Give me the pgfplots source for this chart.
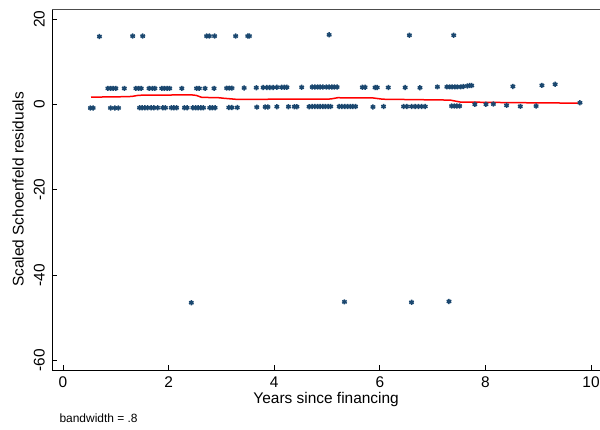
\documentclass[border=0pt]{standalone}
\usepackage{pgfplots}
\pgfplotsset{compat=1.18}
\usepackage{fontspec}
\setmainfont{Liberation Sans}
\definecolor{stnavy}{RGB}{26,71,111}
\definecolor{stred}{RGB}{255,0,0}
\begin{document}
\begin{tikzpicture}
\path[use as bounding box] (0,0) rectangle (600bp,430bp);
\begin{axis}[
  at={(52.3bp,60bp)}, anchor=south west,
  scale only axis, width=547.7bp, height=361bp,
  xmin=-0.203, xmax=10.17, ymin=-62.27, ymax=22.35,
  axis x line*=bottom, axis y line*=left,
  axis line style={black, line width=0.9bp, -},
  xtick={0,2,4,6,8,10}, ytick={-60,-40,-20,0,20},
  major tick length=5bp,
  tick style={black, line width=0.8bp},
  tick align=inside,
  /pgf/number format/assume math mode=true,
  ticklabel style={font=\fontsize{15.5}{18}\selectfont},
  xticklabel style={yshift=-3bp},
  yticklabel style={xshift=-4bp, rotate=90, anchor=south},
  xlabel={Years since financing},
  ylabel={Scaled Schoenfeld residuals},
  label style={font=\fontsize{15.5}{18}\selectfont},
  xlabel style={at={(axis description cs:0.5,-0.0831)}, anchor=center},
  ylabel style={at={(axis description cs:-0.0626,0.5)}, anchor=center},
  clip=false,
]
\addplot[only marks, mark=asterisk, mark size=2.6bp, color=stnavy, line width=1.5bp] table {
x y
0.69 15.9
1.32 16.0
1.51 16.0
2.72 16.0
2.77 16.0
2.87 16.0
3.27 16.0
3.50 16.0
3.53 16.0
5.04 16.3
6.56 16.2
7.40 16.2
0.85 3.75
0.90 3.75
0.95 3.75
1.00 3.75
1.16 3.75
1.38 3.75
1.43 3.75
1.48 3.75
1.63 3.75
1.69 3.75
1.74 3.75
1.87 3.75
1.92 3.75
1.97 3.75
2.02 3.75
2.25 3.75
2.53 3.75
2.58 3.75
2.69 3.75
2.86 3.75
3.10 3.8
3.15 3.8
3.20 3.8
3.43 3.85
3.66 3.9
3.79 3.95
3.86 3.95
3.92 3.95
3.98 3.95
4.05 4.0
4.14 4.0
4.19 4.0
4.24 4.0
4.52 4.0
4.72 4.05
4.77 4.05
4.82 4.05
4.87 4.05
4.92 4.05
4.99 4.05
5.04 4.05
5.09 4.05
5.14 4.05
5.19 4.05
5.67 4.0
5.72 4.0
5.91 3.95
5.95 3.95
6.16 3.95
6.48 3.95
6.76 3.9
7.09 4.1
7.27 4.1
7.32 4.1
7.37 4.1
7.42 4.1
7.47 4.1
7.53 4.1
7.58 4.2
7.66 4.3
7.70 4.4
7.74 4.4
8.52 4.2
9.07 4.45
9.32 4.7
0.52 -0.85
0.57 -0.85
0.90 -0.85
0.98 -0.85
1.05 -0.85
1.45 -0.8
1.50 -0.8
1.55 -0.8
1.60 -0.8
1.67 -0.8
1.72 -0.8
1.79 -0.8
1.89 -0.8
1.94 -0.8
2.05 -0.8
2.10 -0.8
2.15 -0.8
2.30 -0.8
2.35 -0.8
2.46 -0.8
2.51 -0.8
2.56 -0.8
2.61 -0.8
2.66 -0.8
2.78 -0.8
2.83 -0.8
2.88 -0.8
3.14 -0.75
3.20 -0.75
3.30 -0.75
3.67 -0.65
3.83 -0.6
3.88 -0.6
4.05 -0.55
4.27 -0.55
4.38 -0.55
4.43 -0.55
4.66 -0.55
4.72 -0.5
4.77 -0.5
4.82 -0.5
4.87 -0.5
4.92 -0.5
4.97 -0.5
5.02 -0.5
5.07 -0.5
5.23 -0.5
5.28 -0.5
5.34 -0.5
5.39 -0.5
5.44 -0.5
5.49 -0.5
5.54 -0.5
5.87 -0.6
6.07 -0.5
6.45 -0.5
6.51 -0.5
6.60 -0.5
6.67 -0.5
6.73 -0.5
6.79 -0.5
6.86 -0.5
7.36 -0.4
7.41 -0.4
7.46 -0.4
7.51 -0.4
7.80 0.0
8.01 0.0
8.15 0.07
8.40 -0.23
8.66 -0.47
8.96 -0.4
9.79 0.37
2.43 -46.5
5.33 -46.3
6.60 -46.4
7.31 -46.2
};
\addplot[color=stred, line width=1.5bp, no marks] table {
x y
0.53 1.70
1.00 1.75
1.30 1.85
1.42 2.10
1.55 2.18
2.45 2.20
2.52 2.10
2.63 1.64
2.95 1.55
3.05 1.42
3.29 1.17
4.00 1.20
5.00 1.20
5.09 1.30
5.20 1.55
5.87 1.50
6.06 1.20
7.33 1.00
7.52 0.55
8.50 0.40
9.79 0.28
};
\draw[gray!60!black, line width=0.9bp] (rel axis cs:0,1) -- (rel axis cs:1.1,1);
\node[anchor=west, font=\fontsize{12}{14}\selectfont] at (axis description cs:0.0068,-0.133) {bandwidth = .8};
\end{axis}
\end{tikzpicture}
\end{document}
